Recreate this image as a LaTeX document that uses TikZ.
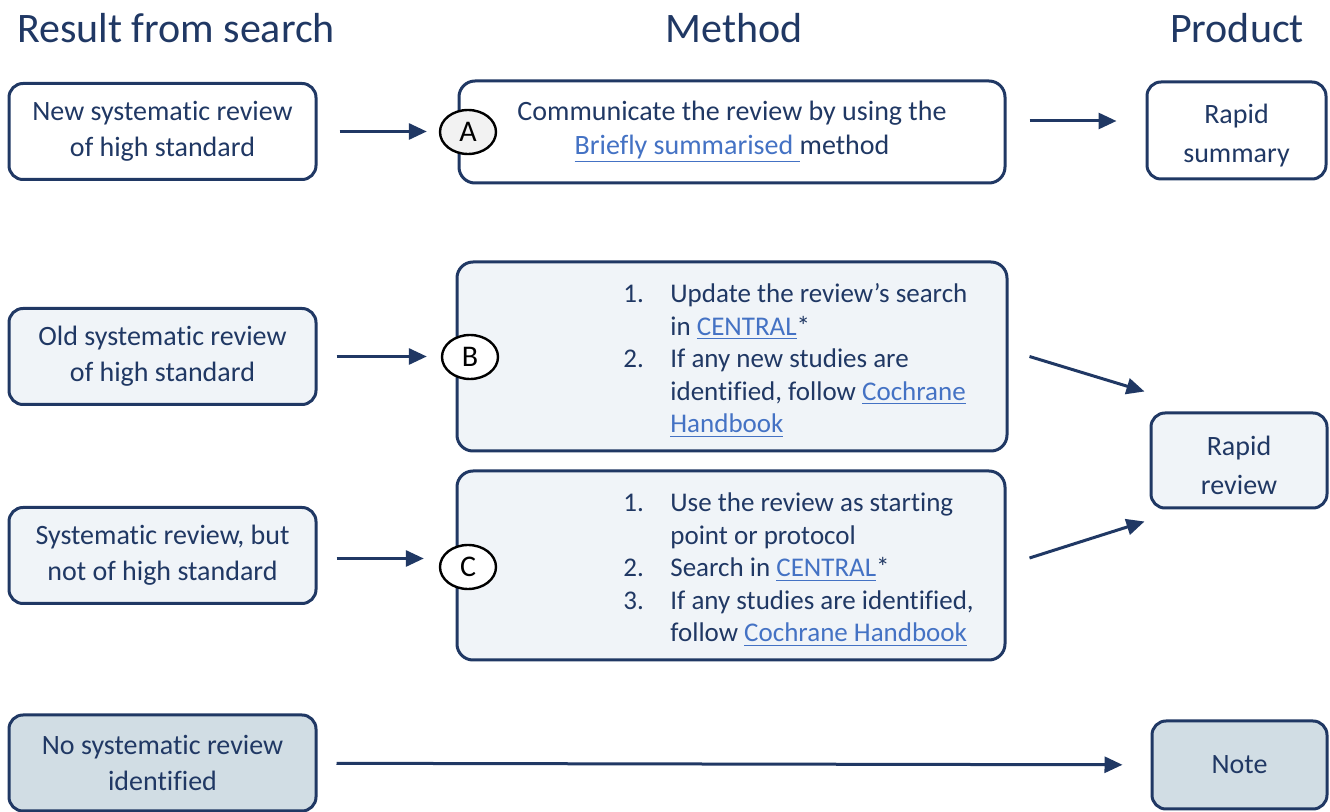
\documentclass[tikz,border=0pt]{standalone}
\usepackage{fontspec}
\setmainfont{Carlito}[Ligatures=NoCommon]
\usetikzlibrary{arrows.meta,shapes.geometric,positioning}
\definecolor{navy}{HTML}{203864}
\definecolor{linkblue}{HTML}{4472C4}
\definecolor{paleblue}{HTML}{F0F4F8}
\definecolor{greyblue}{HTML}{D1DDE4}
\newcommand{\lnk}[1]{\textcolor{linkblue}{\underline{#1}}}
\newcommand{\toprow}{\rule{0pt}{15pt}}
\tikzset{
  head/.style={text=navy, font=\fontsize{21}{25}\selectfont},
  res/.style={draw=navy, line width=1.5pt, rounded corners=7pt, text=navy, align=center,
    font=\fontsize{14}{18}\selectfont, minimum width=153.5pt, minimum height=48pt, inner sep=0pt},
  meth/.style={draw=navy, line width=1.5pt, rounded corners=8pt, text=navy, align=center,
    font=\fontsize{14}{17}\selectfont, inner sep=0pt},
  prod/.style={res, font=\fontsize{14}{19.5}\selectfont, minimum width=88pt},
  letter/.style={ellipse, draw=black, line width=1.2pt, minimum width=28pt, minimum height=22pt,
    fill=white, inner sep=0pt, font=\fontsize{15}{18}\selectfont},
  steps/.style={anchor=base west, inner sep=0pt, text=navy, font=\fontsize{13.5}{16.25}\selectfont},
  arr/.style={draw=navy, line width=1.5pt, -{Triangle[length=9pt,width=8pt]}}
}
\begin{document}
\begin{tikzpicture}[x=0.5pt, y=-0.5pt]
\useasboundingbox (0,0) rectangle (1330,812);

\node[head] (hRes)  at (176,28)  {Result from search};
\node[head] (hMeth) at (734,28)  {Method};
\node[head] (hProd) at (1237,28) {Product};

\node[res, fill=white]    (res1) at (162.5,131.5) {New systematic review\\of high standard};
\node[res, fill=paleblue] (res2) at (162.5,356.5) {Old systematic review\\of high standard};
\node[res, fill=paleblue] (res3) at (162.5,555.5) {Systematic review, but\\not of high standard};
\node[res, fill=greyblue] (res4) at (162.5,763)   {No systematic review\\identified};

\node[meth, fill=white, minimum width=273pt, minimum height=51pt] (mA) at (732,132)
  {Communicate the review by using the\\\lnk{Briefly summarised\ }method};
\node[meth, fill=paleblue, minimum width=275pt, minimum height=94.5pt] (mB) at (732,356.5) {};
\node[meth, fill=paleblue, minimum width=274pt, minimum height=94.5pt] (mC) at (731,565.5) {};

\node[steps] (stepsB) at (623,303) {\begin{tabular}[t]{@{}p{23.5pt}@{}l@{}}
  1. & Update the review’s search\\
     & in \lnk{CENTRAL}*\\
  2. & If any new studies are\\
     & identified, follow \lnk{Cochrane}\\
     & \lnk{Handbook}
\end{tabular}};
\node[steps] (stepsC) at (623,512) {\begin{tabular}[t]{@{}p{23.5pt}@{}l@{}}
  1. & Use the review as starting\\
     & point or protocol\\
  2. & Search in \lnk{CENTRAL}*\\
  3. & If any studies are identified,\\
     & follow \lnk{Cochrane Handbook}
\end{tabular}};

\node[letter, fill=black!5] (cA) at (468,132) {A};
\node[letter] (cB) at (470,357) {B};
\node[letter] (cC) at (468,567) {C};

\node[prod, fill=white,    minimum width=89.5pt, minimum height=48.5pt] (pSum)  at (1236.5,130.5) {\toprow Rapid\\summary};
\node[prod, fill=paleblue, minimum width=88pt,   minimum height=47.5pt] (pRev)  at (1239,460.5)   {\toprow Rapid\\review};
\node[prod, fill=greyblue, minimum width=87.5pt, minimum height=44pt]   (pNote) at (1239.5,765)    {Note};

\draw[arr, shorten <=11pt, shorten >=6pt] (res1.east) -- (res1.east -| cA.west);
\draw[arr, shorten <=9.5pt, shorten >=7pt] (res2.east) -- (res2.east -| cB.west);
\draw[arr, shorten <=9.5pt, shorten >=7.5pt] ([yshift=-1.5pt]res3.east) -- ([yshift=-1.5pt]res3.east -| cC.west);
\draw[arr, shorten <=11.5pt, shorten >=14.5pt] ([yshift=5.5pt]mA.east) -- ([yshift=5.5pt]mA.east -| pSum.west);
\draw[arr] ([shift={(21,0)}]mB.east) -- ([shift={(-5,-20)}]pRev.north west);
\draw[arr] ([shift={(23,-7.5)}]mC.east) -- ([shift={(-5,12)}]pRev.south west);
\draw[arr, shorten <=9.5pt, shorten >=14pt] (res4) -- (pNote);
\end{tikzpicture}
\end{document}
